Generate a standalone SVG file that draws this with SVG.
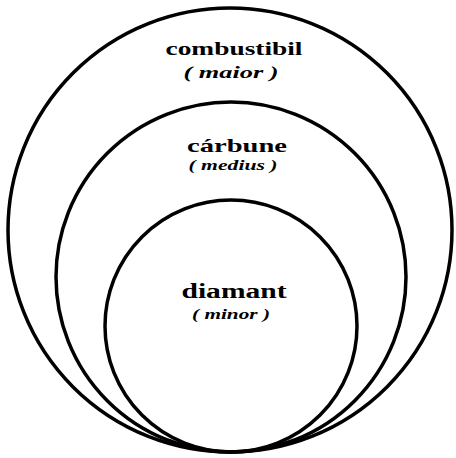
<svg xmlns="http://www.w3.org/2000/svg" width="456" height="458" viewBox="0 0 456 458">
<style>
.c{fill:none;stroke:#000;stroke-width:3.5}
.t{font-family:"Liberation Serif","DejaVu Serif",serif;font-weight:bold;fill:#000;text-anchor:middle}
.s{font-family:"Liberation Serif","DejaVu Serif",serif;font-style:italic;font-weight:bold;fill:#000;text-anchor:middle}
</style>
<rect width="456" height="458" fill="#fff"/>
<g id="combustibil">
<circle class="c" cx="230" cy="230" r="222"/>
<text class="t" x="234" y="55" font-size="19" textLength="137" lengthAdjust="spacingAndGlyphs">combustibil</text>
<text class="s" x="231" y="78" font-size="17" textLength="95" lengthAdjust="spacingAndGlyphs">( maior )</text>
</g>
<g id="carbune">
<circle class="c" cx="231" cy="277" r="175"/>
<text class="t" x="237" y="152" font-size="19" textLength="100" lengthAdjust="spacingAndGlyphs">cárbune</text>
<text class="s" x="233" y="170" font-size="15" textLength="89" lengthAdjust="spacingAndGlyphs">( medius )</text>
</g>
<g id="diamant">
<circle class="c" cx="231" cy="326" r="126"/>
<text class="t" x="234" y="298" font-size="20" textLength="105" lengthAdjust="spacingAndGlyphs">diamant</text>
<text class="s" x="231" y="319" font-size="15" textLength="78" lengthAdjust="spacingAndGlyphs">( minor )</text>
</g>
<g id="connectors"/>
</svg>
